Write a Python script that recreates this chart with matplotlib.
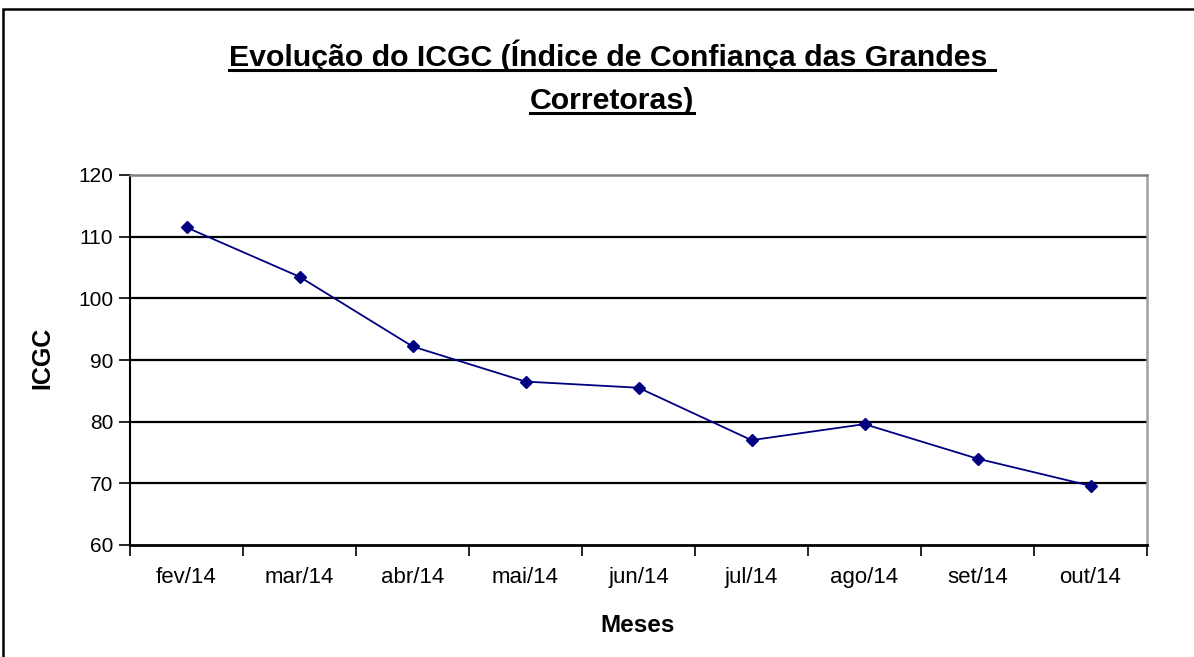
import numpy as np
import matplotlib.pyplot as plt
from matplotlib.patches import Rectangle
from matplotlib.lines import Line2D

meses = ["fev/14", "mar/14", "abr/14", "mai/14", "jun/14", "jul/14", "ago/14", "set/14", "out/14"]
icgc = [111.5, 103.5, 92.2, 86.5, 85.5, 77.0, 79.6, 74.0, 69.6]
yticks = [60, 70, 80, 90, 100, 110, 120]

plt.rcParams['font.family'] = ['Liberation Sans', 'DejaVu Sans']

W, H = 1194, 657
fig = plt.figure(figsize=(W / 100, H / 100), dpi=100)
ax = fig.add_axes([130 / W, 1 - 545 / H, (1147 - 130) / W, (545 - 175) / H])

x = np.arange(len(meses))
ax.plot(x, icgc, color='#000080', lw=1.3, marker='D', markersize=6.5, zorder=3)

ax.set_xlim(-0.5, len(meses) - 0.5)
ax.set_ylim(60, 120)
ax.set_yticks(yticks)
ax.set_xticks(np.arange(-0.5, len(meses)), labels=[''] * (len(meses) + 1))
ax.set_xticks(x, labels=meses, minor=True)
ax.tick_params(axis='x', which='major', length=8, width=1.2, color='black', direction='out')
ax.tick_params(axis='x', which='minor', length=0, pad=16, labelsize=16)
ax.tick_params(axis='y', length=8, width=1.2, direction='out', labelsize=15, pad=4)

for v in yticks[1:-1]:
    ax.axhline(v, color='black', lw=1.6, zorder=1)

ax.spines['left'].set_color('black')
ax.spines['left'].set_linewidth(1.5)
ax.spines['bottom'].set_color('black')
ax.spines['bottom'].set_linewidth(2)
ax.spines['top'].set_color('#808080')
ax.spines['top'].set_linewidth(1.8)
ax.spines['right'].set_color('#A0A0A0')
ax.spines['right'].set_linewidth(1.8)

# axis titles placed like the Excel chart
fig.text(638 / W, 1 - 625 / H, 'Meses', ha='center', va='center', fontsize=17.5, fontweight='bold')
fig.text(42 / W, 1 - 358 / H, 'ICGC', ha='center', va='center', rotation=90, fontsize=18, fontweight='bold')

# chart border (cut off at right and bottom)
fig.patches.append(Rectangle((3 / W, -0.05), 1.2, 1 - 9 / H + 0.05, transform=fig.transFigure,
                             fill=False, edgecolor='black', lw=1.8))

# underlined two-line title
titulo = ["Evolução do ICGC (Índice de Confiança das Grandes ", "Corretoras)"]
ys = [56, 101]
fig.canvas.draw()
r = fig.canvas.get_renderer()
for t, yy in zip(titulo, ys):
    txt = fig.text(612 / W, 1 - yy / H, t, ha='center', va='center', fontsize=21.8, fontweight='bold')
    bb = txt.get_window_extent(renderer=r)
    uy = bb.y0 + 2
    fig.lines.append(Line2D([bb.x0 / W, bb.x1 / W], [uy / H, uy / H], transform=fig.transFigure,
                            color='black', lw=2.2))

fig.savefig('out.png', dpi=100)
